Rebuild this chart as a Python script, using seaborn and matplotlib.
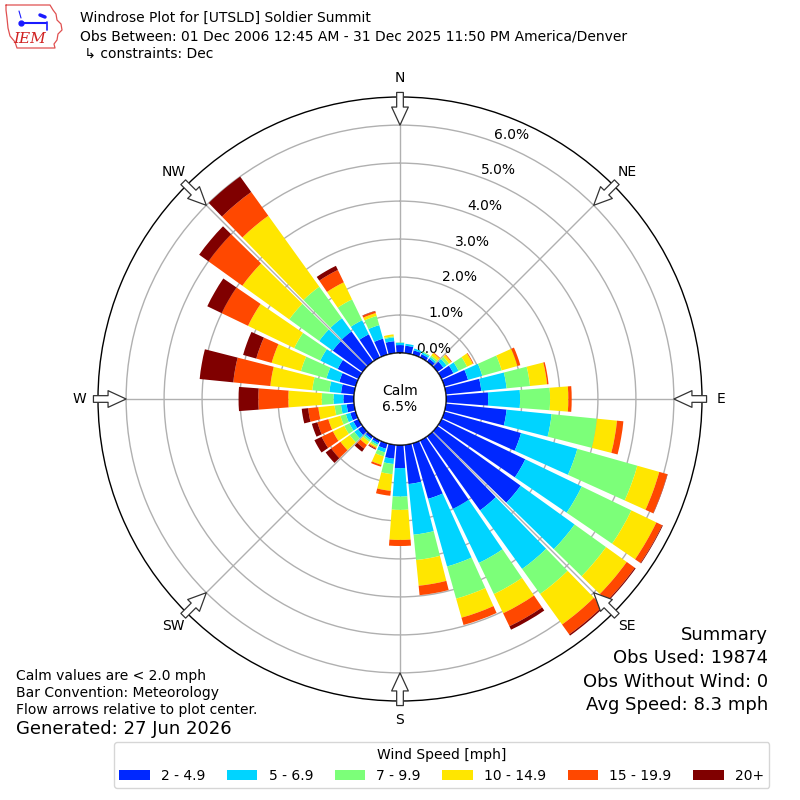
import numpy as np
import matplotlib
matplotlib.use("Agg")
import matplotlib.pyplot as plt
from matplotlib.patches import Circle
from matplotlib.lines import Line2D
import seaborn as sns

# wind directions (deg, meteorological) and percent of obs per speed bin
directions = np.arange(0, 360, 10)
speed_labels = ["2 - 4.9", "5 - 6.9", "7 - 9.9", "10 - 14.9", "15 - 19.9", "20+"]
speed_colors = ["#0028ff", "#00d4ff", "#7cff79", "#ffe600", "#ff4800", "#800000"]

pct_2_5 = [0.21, 0.20, 0.12, 0.10, 0.10, 0.20, 0.35, 0.65, 0.94, 1.11, 1.61, 2.10,
           2.45, 2.70, 2.40, 2.00, 1.52, 1.04, 0.61, 0.37, 0.15, 0.08, 0.08, 0.15,
           0.15, 0.15, 0.20, 0.28, 0.35, 0.45, 0.61, 0.97, 0.98, 0.68, 0.44, 0.32]
pct_5_7 = [0.06, 0.05, 0.05, 0.05, 0.05, 0.10, 0.15, 0.39, 0.67, 0.84, 1.19, 1.54,
           1.65, 1.75, 1.90, 1.58, 1.85, 1.34, 0.75, 0.14, 0.10, 0.05, 0.05, 0.12,
           0.12, 0.12, 0.15, 0.26, 0.31, 0.35, 0.51, 0.44, 0.43, 0.41, 0.37, 0.10]
pct_7_10 = [0.01, 0.00, 0.00, 0.03, 0.05, 0.08, 0.25, 0.53, 0.62, 0.79, 1.20, 1.64,
            1.45, 1.02, 0.81, 0.91, 0.88, 0.67, 0.35, 0.27, 0.11, 0.05, 0.05, 0.15,
            0.15, 0.15, 0.17, 0.31, 0.45, 0.70, 0.76, 0.97, 1.02, 0.61, 0.25, 0.03]
pct_10_15 = [0.00, 0.00, 0.00, 0.00, 0.08, 0.07, 0.17, 0.43, 0.45, 0.48, 0.53, 0.60,
             0.73, 0.67, 0.99, 0.56, 0.52, 0.68, 0.79, 0.44, 0.23, 0.04, 0.10, 0.30,
             0.33, 0.33, 0.43, 0.88, 1.11, 0.80, 1.35, 1.52, 2.30, 0.50, 0.08, 0.05]
pct_15_20 = [0.00, 0.00, 0.00, 0.00, 0.02, 0.02, 0.02, 0.08, 0.04, 0.09, 0.17, 0.22,
             0.17, 0.26, 0.32, 0.38, 0.20, 0.25, 0.16, 0.13, 0.05, 0.03, 0.12, 0.30,
             0.33, 0.30, 0.27, 0.79, 0.98, 0.42, 0.77, 1.10, 0.77, 0.36, 0.05, 0.00]
pct_20_up = [0.00, 0.00, 0.00, 0.00, 0.00, 0.00, 0.00, 0.00, 0.00, 0.00, 0.00, 0.01,
             0.02, 0.03, 0.04, 0.10, 0.00, 0.00, 0.00, 0.00, 0.00, 0.02, 0.10, 0.18,
             0.21, 0.15, 0.17, 0.52, 0.89, 0.36, 0.42, 0.30, 0.50, 0.12, 0.01, 0.00]
speed_bins = [pct_2_5, pct_5_7, pct_7_10, pct_10_15, pct_15_20, pct_20_up]

calm_pct = 6.5
ring_values = [0, 1, 2, 3, 4, 5, 6]
compass = ["N", "NE", "E", "SE", "S", "SW", "W", "NW"]

sns.set_style("white")
plt.rcParams["font.family"] = ["DejaVu Sans"]
plt.rcParams["text.color"] = "black"
plt.rcParams["xtick.color"] = "black"
plt.rcParams["ytick.color"] = "black"
palette = sns.color_palette(speed_colors)

fig = plt.figure(figsize=(8, 8), dpi=100)
ax = fig.add_axes([0.1225, 0.12375, 0.755, 0.755], projection="polar")
ax.set_theta_zero_location("N")
ax.set_theta_direction(-1)

theta = np.deg2rad(directions)
bottom = np.zeros(len(directions))
handles = []
for vals, col, lab in zip(speed_bins, palette, speed_labels):
    vals = np.array(vals)
    b = ax.bar(theta, vals, width=np.deg2rad(8.6), bottom=bottom, color=col,
               edgecolor="none", label=lab, zorder=2)
    handles.append(b)
    bottom = bottom + vals

ax.set_ylim(0, 6.74)
ax.set_rorigin(-1.21)
ax.set_rgrids(ring_values, labels=[f"{v:.1f}%" for v in ring_values], fontsize=10)
ax.set_rlabel_position(20)
ax.set_xticks(np.deg2rad(np.arange(0, 360, 45)))
ax.set_xticklabels(compass, fontsize=10)
ax.tick_params(axis="x", pad=3)
ax.grid(True, color="#b0b0b0", lw=1)
for g in ax.get_xgridlines() + ax.get_ygridlines():
    g.set_zorder(3)
ax.spines["polar"].set_color("black")
ax.spines["polar"].set_linewidth(1)

# calm circle
ax.add_patch(Circle((0.5, 0.5), 46 / 604, transform=ax.transAxes, fc="white",
                    ec="black", lw=1, zorder=6))
ax.text(0.5, 0.5, f"Calm\n{calm_pct:.1f}%", transform=ax.transAxes, ha="center",
        va="center", fontsize=10, zorder=7, linespacing=1.2)

# flow arrows
for d in range(0, 360, 45):
    ax.annotate("", xy=(np.deg2rad(d), 6.0), xytext=(np.deg2rad(d), 6.86),
                arrowprops=dict(arrowstyle="simple,head_length=0.65,head_width=0.6,tail_width=0.24",
                                fc="white", ec="#333333", lw=0.9, shrinkA=0, shrinkB=0,
                                mutation_scale=20),
                annotation_clip=False, zorder=8)

# IEM logo (rough)
def px(x, y):
    return x / 800, 1 - y / 800

outline = [(6, 5), (50, 5), (53, 10), (56, 14), (57, 20), (61, 24), (62, 30), (58, 34),
           (57, 40), (54, 44), (55, 48), (17, 48), (15, 42), (10, 36), (8, 28), (7, 18),
           (6, 10), (6, 5)]
ox, oy = zip(*[px(x, y) for x, y in outline])
fig.add_artist(Line2D(ox, oy, color="#e05050", lw=0.9))
fig.add_artist(Line2D(*zip(*[px(20, 23), px(46, 23)]), color="#1a1aff", lw=1.5))
fig.add_artist(Line2D(*zip(*[px(40, 15), px(45, 17)]), color="#1a1aff", lw=2.5))
fig.add_artist(Line2D(*zip(*[px(47, 22), px(47, 30)]), color="#1a1aff", lw=1.2))
fig.add_artist(Line2D(*zip(*[px(19, 11), px(21, 18)]), color="#1a1aff", lw=0.8))
fig.add_artist(Line2D([px(21, 23)[0]], [px(21, 23)[1]], marker="o", ms=3.5, color="#1a1aff"))
fig.text(px(30, 39)[0], px(30, 39)[1], "IEM", color="#d02020", fontstyle="italic",
         family="DejaVu Serif", fontsize=11, ha="center", va="center")

# header
fig.text(0.1, 0.9775, "Windrose Plot for [UTSLD] Soldier Summit", fontsize=10, va="center")
fig.text(0.1, 0.954, "Obs Between: 01 Dec 2006 12:45 AM - 31 Dec 2025 11:50 PM America/Denver",
         fontsize=10, va="center")
fig.text(0.1, 0.9325, " \u21b3 constraints: Dec", fontsize=10, va="center")

# footer notes
fig.text(0.02, 0.155, "Calm values are < 2.0 mph", fontsize=10, va="center")
fig.text(0.02, 0.134, "Bar Convention: Meteorology", fontsize=10, va="center")
fig.text(0.02, 0.1125, "Flow arrows relative to plot center.", fontsize=10, va="center")
fig.text(0.02, 0.089, "Generated: 27 Jun 2026", fontsize=13, va="center")

summary = ["Summary", "Obs Used: 19874", "Obs Without Wind: 0", "Avg Speed: 8.3 mph"]
for i, s in enumerate(summary):
    fig.text(0.96, 0.206 - i * 0.029, s, fontsize=13, ha="right", va="center")

leg = fig.legend(handles=handles, labels=speed_labels, ncol=6, title="Wind Speed [mph]",
                 loc="lower center", bbox_to_anchor=(0.552, 0.006), fontsize=10,
                 title_fontsize=10, handlelength=2.2, columnspacing=1.55, frameon=True)
leg.get_frame().set_edgecolor("#cccccc")

fig.savefig("out.png", dpi=100)
